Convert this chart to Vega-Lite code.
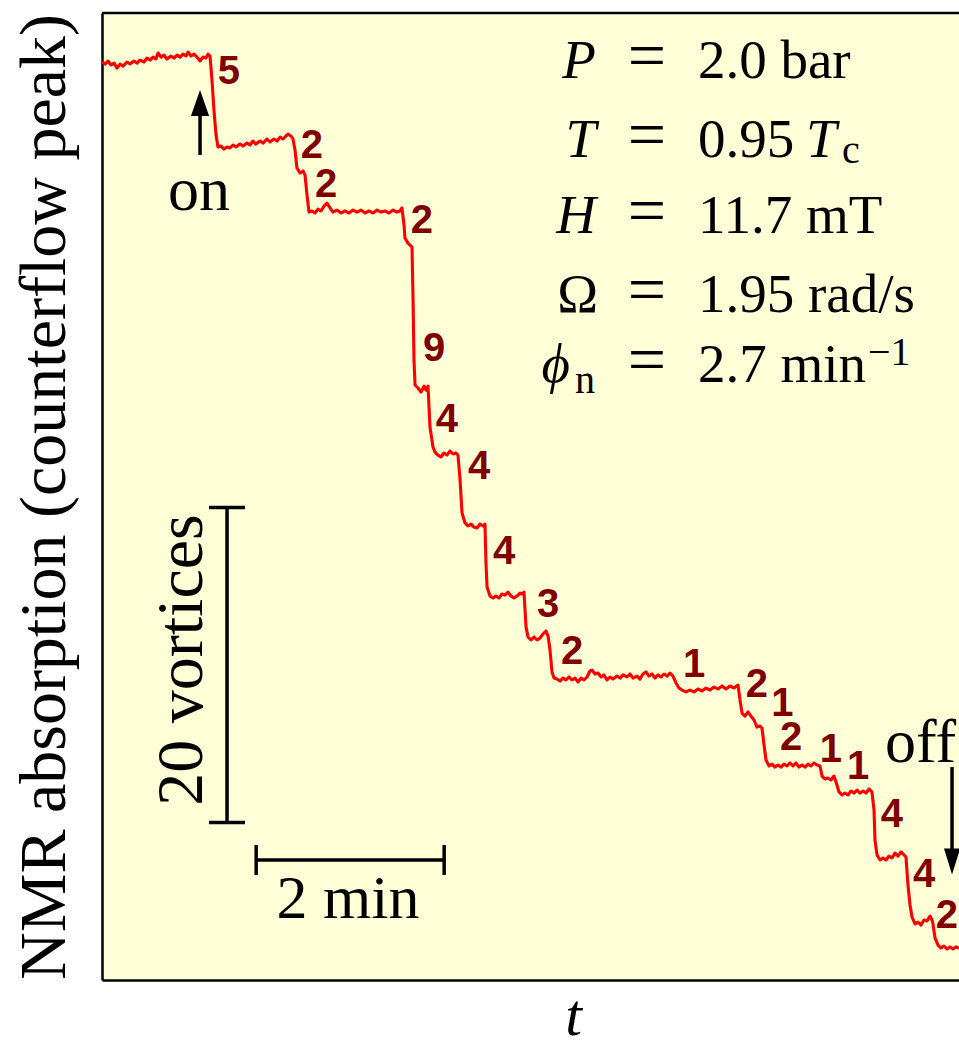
{
  "$schema": "https://vega.github.io/schema/vega-lite/v6.json",
  "width": 857,
  "height": 967,
  "autosize": {"type": "none"},
  "padding": {"left": 102, "top": 13, "right": 0, "bottom": 68},
  "background": "white",
  "config": {
    "view": {"stroke": null, "fill": "#FFFFD7"},
    "axis": {"grid": false, "labels": false, "ticks": false, "domainColor": "black", "domainWidth": 2.5, "titleColor": "black", "titleFont": "Liberation Serif, Times New Roman, DejaVu Serif, serif", "titleFontWeight": "normal"}
  },
  "encoding": {
    "x": {"field": "t", "type": "quantitative", "scale": {"domain": [0, 9.117], "nice": false, "zero": false},
          "axis": {"title": "t", "titleFontStyle": "italic", "titleFontSize": 60, "titlePadding": 7, "titleX": 471}},
    "y": {"field": "v", "type": "quantitative", "scale": {"domain": [0, 61.4], "nice": false, "zero": false},
          "axis": {"title": "NMR absorption (counterflow peak)", "titleFontSize": 66, "titlePadding": 24}}
  },
  "layer": [
    {
      "data": {"values": [
        {"t":0,"v":58.29},{"t":0.032,"v":58.16},{"t":0.064,"v":58.35},{"t":0.096,"v":58.10},{"t":0.128,"v":58.22},{"t":0.160,"v":57.90},{"t":0.191,"v":58.16},{"t":0.223,"v":58.03},{"t":0.266,"v":58.29},{"t":0.298,"v":58.16},{"t":0.340,"v":58.35},{"t":0.372,"v":58.22},{"t":0.404,"v":58.41},{"t":0.447,"v":58.29},{"t":0.479,"v":58.54},{"t":0.511,"v":58.41},{"t":0.543,"v":58.60},{"t":0.574,"v":58.48},{"t":0.596,"v":58.86},{"t":0.628,"v":58.60},{"t":0.660,"v":58.73},{"t":0.691,"v":58.48},{"t":0.734,"v":58.67},{"t":0.766,"v":58.54},{"t":0.798,"v":58.73},{"t":0.830,"v":58.60},{"t":0.862,"v":58.79},{"t":0.894,"v":58.67},{"t":0.915,"v":58.92},{"t":0.947,"v":58.67},{"t":0.979,"v":58.79},{"t":1.011,"v":58.60},{"t":1.043,"v":58.35},{"t":1.074,"v":58.60},{"t":1.106,"v":58.54},{"t":1.128,"v":58.79},
        {"t":1.149,"v":58.67},{"t":1.170,"v":57.14},{"t":1.191,"v":55.24},{"t":1.213,"v":53.65},{"t":1.234,"v":52.89},
        {"t":1.266,"v":52.95},{"t":1.298,"v":52.76},{"t":1.330,"v":52.89},{"t":1.362,"v":52.83},{"t":1.394,"v":53.02},{"t":1.426,"v":52.89},{"t":1.468,"v":53.08},{"t":1.500,"v":52.95},{"t":1.543,"v":53.14},{"t":1.574,"v":53.02},{"t":1.606,"v":53.27},{"t":1.638,"v":53.08},{"t":1.681,"v":53.27},{"t":1.713,"v":53.14},{"t":1.755,"v":53.40},{"t":1.787,"v":53.21},{"t":1.830,"v":53.40},{"t":1.862,"v":53.27},{"t":1.894,"v":53.52},{"t":1.926,"v":53.40},{"t":1.957,"v":53.59},{"t":1.979,"v":53.71},{"t":2.011,"v":53.59},{"t":2.032,"v":53.40},
        {"t":2.053,"v":52.70},{"t":2.074,"v":51.56},{"t":2.106,"v":51.24},{"t":2.138,"v":51.37},{"t":2.160,"v":51.11},{"t":2.181,"v":49.84},{"t":2.202,"v":48.76},
        {"t":2.234,"v":48.83},{"t":2.266,"v":48.70},{"t":2.298,"v":48.95},{"t":2.330,"v":48.83},{"t":2.362,"v":49.14},{"t":2.394,"v":49.33},{"t":2.426,"v":49.02},{"t":2.457,"v":48.76},{"t":2.500,"v":48.89},{"t":2.543,"v":48.70},{"t":2.585,"v":48.83},{"t":2.628,"v":48.70},{"t":2.670,"v":48.89},{"t":2.713,"v":48.76},{"t":2.755,"v":48.89},{"t":2.798,"v":48.70},{"t":2.840,"v":48.83},{"t":2.883,"v":48.70},{"t":2.926,"v":48.89},{"t":2.968,"v":48.76},{"t":3.011,"v":48.83},{"t":3.053,"v":48.70},{"t":3.096,"v":48.89},{"t":3.138,"v":48.76},{"t":3.170,"v":48.83},{"t":3.191,"v":49.02},
        {"t":3.213,"v":47.94},{"t":3.223,"v":47.11},{"t":3.255,"v":46.79},{"t":3.298,"v":46.54},{"t":3.309,"v":43.17},{"t":3.319,"v":39.37},{"t":3.330,"v":37.78},
        {"t":3.362,"v":37.59},{"t":3.394,"v":37.33},{"t":3.426,"v":37.71},{"t":3.447,"v":37.46},{"t":3.468,"v":37.71},
        {"t":3.489,"v":35.11},{"t":3.521,"v":33.84},{"t":3.543,"v":33.52},
        {"t":3.574,"v":33.33},{"t":3.606,"v":33.21},{"t":3.638,"v":33.46},{"t":3.670,"v":33.33},{"t":3.702,"v":33.59},{"t":3.734,"v":33.40},{"t":3.766,"v":33.46},{"t":3.787,"v":33.33},
        {"t":3.809,"v":31.75},{"t":3.830,"v":29.65},{"t":3.862,"v":29.02},
        {"t":3.894,"v":28.83},{"t":3.926,"v":28.95},{"t":3.957,"v":28.76},{"t":3.989,"v":28.70},{"t":4.021,"v":28.95},{"t":4.053,"v":28.83},{"t":4.074,"v":28.95},
        {"t":4.085,"v":26.48},{"t":4.096,"v":24.95},{"t":4.128,"v":24.38},{"t":4.160,"v":24.25},
        {"t":4.191,"v":24.38},{"t":4.223,"v":24.25},{"t":4.255,"v":24.51},{"t":4.287,"v":24.44},{"t":4.319,"v":24.63},{"t":4.351,"v":24.38},{"t":4.383,"v":24.25},{"t":4.415,"v":24.38},{"t":4.447,"v":24.57},{"t":4.468,"v":24.51},{"t":4.489,"v":24.63},
        {"t":4.511,"v":22.41},{"t":4.532,"v":21.78},{"t":4.564,"v":21.59},
        {"t":4.596,"v":21.78},{"t":4.628,"v":21.59},{"t":4.660,"v":21.71},{"t":4.691,"v":21.97},{"t":4.723,"v":22.16},{"t":4.745,"v":21.84},
        {"t":4.766,"v":20.95},{"t":4.787,"v":19.56},{"t":4.809,"v":19.17},
        {"t":4.840,"v":19.11},{"t":4.872,"v":18.98},{"t":4.904,"v":19.17},{"t":4.936,"v":19.05},{"t":4.968,"v":19.24},{"t":5.000,"v":19.05},{"t":5.032,"v":19.17},{"t":5.064,"v":18.92},{"t":5.096,"v":19.17},{"t":5.128,"v":19.05},{"t":5.160,"v":19.24},{"t":5.191,"v":19.62},{"t":5.213,"v":19.68},{"t":5.245,"v":19.43},{"t":5.277,"v":19.49},{"t":5.309,"v":19.24},{"t":5.340,"v":19.37},{"t":5.372,"v":19.05},{"t":5.404,"v":19.24},{"t":5.436,"v":19.11},{"t":5.479,"v":19.30},{"t":5.511,"v":19.17},{"t":5.543,"v":19.37},{"t":5.585,"v":19.24},{"t":5.617,"v":19.43},{"t":5.649,"v":19.17},{"t":5.691,"v":19.30},{"t":5.723,"v":19.11},{"t":5.755,"v":19.43},{"t":5.787,"v":19.56},{"t":5.819,"v":19.30},{"t":5.851,"v":19.43},{"t":5.883,"v":19.17},{"t":5.915,"v":19.37},{"t":5.947,"v":19.24},{"t":5.979,"v":19.43},{"t":6.011,"v":19.30},{"t":6.043,"v":19.49},{"t":6.074,"v":19.30},
        {"t":6.106,"v":18.86},{"t":6.138,"v":18.54},{"t":6.170,"v":18.41},
        {"t":6.213,"v":18.29},{"t":6.255,"v":18.41},{"t":6.298,"v":18.29},{"t":6.340,"v":18.48},{"t":6.383,"v":18.35},{"t":6.426,"v":18.54},{"t":6.468,"v":18.41},{"t":6.511,"v":18.60},{"t":6.553,"v":18.48},{"t":6.596,"v":18.67},{"t":6.638,"v":18.48},{"t":6.681,"v":18.67},{"t":6.723,"v":18.54},{"t":6.766,"v":18.73},
        {"t":6.787,"v":17.78},{"t":6.809,"v":16.95},{"t":6.840,"v":16.76},{"t":6.872,"v":17.02},{"t":6.904,"v":16.76},{"t":6.936,"v":16.51},{"t":6.968,"v":16.06},{"t":7.000,"v":16.13},{"t":7.021,"v":16.00},{"t":7.043,"v":14.92},{"t":7.064,"v":13.97},{"t":7.096,"v":13.59},
        {"t":7.128,"v":13.71},{"t":7.160,"v":13.52},{"t":7.191,"v":13.65},{"t":7.223,"v":13.52},{"t":7.255,"v":13.71},{"t":7.287,"v":13.59},{"t":7.319,"v":13.78},{"t":7.351,"v":13.59},{"t":7.383,"v":13.78},{"t":7.415,"v":13.52},{"t":7.447,"v":13.65},{"t":7.479,"v":13.52},{"t":7.511,"v":13.71},{"t":7.543,"v":13.59},{"t":7.574,"v":13.78},{"t":7.606,"v":13.65},{"t":7.638,"v":13.59},
        {"t":7.660,"v":12.95},{"t":7.691,"v":12.76},{"t":7.723,"v":12.83},{"t":7.755,"v":12.70},{"t":7.787,"v":12.95},{"t":7.809,"v":12.57},{"t":7.840,"v":11.94},{"t":7.872,"v":11.75},
        {"t":7.904,"v":11.87},{"t":7.936,"v":11.75},{"t":7.968,"v":12.00},{"t":8.000,"v":11.87},{"t":8.032,"v":12.06},{"t":8.064,"v":11.87},{"t":8.096,"v":12.00},{"t":8.128,"v":11.87},{"t":8.160,"v":12.13},{"t":8.191,"v":11.94},
        {"t":8.213,"v":10.79},{"t":8.223,"v":8.89},{"t":8.245,"v":7.94},{"t":8.277,"v":7.62},
        {"t":8.309,"v":7.75},{"t":8.340,"v":7.62},{"t":8.372,"v":7.87},{"t":8.404,"v":7.75},{"t":8.436,"v":8.06},{"t":8.468,"v":7.87},{"t":8.500,"v":8.13},{"t":8.532,"v":7.94},{"t":8.553,"v":7.81},
        {"t":8.574,"v":6.03},{"t":8.596,"v":4.76},{"t":8.617,"v":4.00},{"t":8.649,"v":3.56},
        {"t":8.681,"v":3.68},{"t":8.713,"v":3.49},{"t":8.745,"v":3.81},{"t":8.777,"v":3.75},{"t":8.809,"v":4.06},{"t":8.830,"v":3.81},{"t":8.840,"v":3.56},
        {"t":8.862,"v":2.67},{"t":8.894,"v":2.22},{"t":8.926,"v":2.03},
        {"t":8.957,"v":2.16},{"t":8.989,"v":1.97},{"t":9.021,"v":2.10},{"t":9.053,"v":1.97},{"t":9.085,"v":2.10},{"t":9.117,"v":2.03}
      ]},
      "mark": {"type": "line", "color": "#FF0000", "strokeWidth": 3.1, "strokeJoin": "round", "clip": true}
    },
    {
      "data": {"values": [{"t": 0, "t2": 9.117, "v": 61.4, "v2": 61.4}]},
      "mark": {"type": "rule", "color": "black", "strokeWidth": 2.5},
      "encoding": {"x2": {"field": "t2"}, "y2": {"field": "v2"}}
    },
    {
      "data": {"values": [
        {"t": 1.330, "t2": 1.330, "v": 10, "v2": 30},
        {"t": 1.138, "t2": 1.521, "v": 30, "v2": 30},
        {"t": 1.138, "t2": 1.521, "v": 10, "v2": 10},
        {"t": 1.64, "t2": 3.64, "v": 7.62, "v2": 7.62},
        {"t": 1.64, "t2": 1.64, "v": 6.67, "v2": 8.57},
        {"t": 3.64, "t2": 3.64, "v": 6.67, "v2": 8.57},
        {"t": 1.043, "t2": 1.043, "v": 52.38, "v2": 55.3},
        {"t": 9.043, "t2": 9.043, "v": 13.52, "v2": 7.9}
      ]},
      "mark": {"type": "rule", "color": "black", "strokeWidth": 3.5},
      "encoding": {"x2": {"field": "t2"}, "y2": {"field": "v2"}}
    },
    {
      "data": {"values": [
        {"t": 1.043, "v": 55.68, "dir": "up"},
        {"t": 9.043, "v": 7.52, "dir": "down"}
      ]},
      "mark": {"type": "point", "filled": true, "color": "black", "opacity": 1, "size": 676, "strokeWidth": 0},
      "encoding": {"shape": {"field": "dir", "type": "nominal", "scale": {"domain": ["up", "down"], "range": ["M0,-1L0.7,1L-0.7,1Z", "M0,1L0.62,-1L-0.62,-1Z"]}, "legend": null}}
    },
    {
      "data": {"values": [
        {"t": 1.351, "v": 57.65, "label": "5"},
        {"t": 2.234, "v": 52.95, "label": "2"},
        {"t": 2.383, "v": 50.48, "label": "2"},
        {"t": 3.404, "v": 48.19, "label": "2"},
        {"t": 3.532, "v": 40.06, "label": "9"},
        {"t": 3.670, "v": 35.56, "label": "4"},
        {"t": 4.011, "v": 32.57, "label": "4"},
        {"t": 4.277, "v": 27.17, "label": "4"},
        {"t": 4.745, "v": 23.81, "label": "3"},
        {"t": 5.000, "v": 20.83, "label": "2"},
        {"t": 6.298, "v": 20.00, "label": "1"},
        {"t": 6.968, "v": 18.73, "label": "2"},
        {"t": 7.238, "v": 17.55, "label": "1"},
        {"t": 7.330, "v": 15.37, "label": "2"},
        {"t": 7.755, "v": 14.60, "label": "1"},
        {"t": 8.043, "v": 13.52, "label": "1"},
        {"t": 8.404, "v": 10.48, "label": "4"},
        {"t": 8.745, "v": 6.67, "label": "4"},
        {"t": 8.989, "v": 4.06, "label": "2"}
      ]},
      "mark": {"type": "text", "font": "Liberation Sans, Arial, Helvetica, sans-serif", "fontWeight": "bold", "fontSize": 40, "color": "#800000", "align": "center", "baseline": "middle"},
      "encoding": {"text": {"field": "label"}}
    },
    {
      "data": {"values": [
        {"t": 1.032, "v": 48.89, "label": "on"},
        {"t": 2.617, "v": 3.94, "label": "2 min"}
      ]},
      "mark": {"type": "text", "font": "Liberation Serif, Times New Roman, DejaVu Serif, serif", "fontSize": 62, "color": "black", "align": "center", "baseline": "alphabetic"},
      "encoding": {"text": {"field": "label"}}
    },
    {
      "data": {"values": [{"t": 8.330, "v": 13.84, "label": "off"}]},
      "mark": {"type": "text", "font": "Liberation Serif, Times New Roman, DejaVu Serif, serif", "fontSize": 62, "color": "black", "align": "left", "baseline": "alphabetic"},
      "encoding": {"text": {"field": "label"}}
    },
    {
      "data": {"values": [{"t": 1.064, "v": 20.32, "label": "20 vortices"}]},
      "mark": {"type": "text", "font": "Liberation Serif, Times New Roman, DejaVu Serif, serif", "fontSize": 66, "color": "black", "align": "center", "baseline": "alphabetic", "angle": 270},
      "encoding": {"text": {"field": "label"}}
    },
    {
      "data": {"values": [
        {"t": 5.255, "v": 57.27, "label": "P"},
        {"t": 5.255, "v": 52.25, "label": "T"},
        {"t": 5.255, "v": 47.43, "label": "H"},
        {"t": 4.979, "v": 37.97, "label": "ϕ"}
      ]},
      "mark": {"type": "text", "font": "Liberation Serif, Times New Roman, DejaVu Serif, serif", "fontStyle": "italic", "fontSize": 55, "color": "black", "align": "right", "baseline": "alphabetic"},
      "encoding": {"text": {"field": "label"}}
    },
    {
      "data": {"values": [{"t": 5.277, "v": 42.41, "label": "Ω"}]},
      "mark": {"type": "text", "font": "Liberation Serif, Times New Roman, DejaVu Serif, serif", "fontSize": 55, "color": "black", "align": "right", "baseline": "alphabetic"},
      "encoding": {"text": {"field": "label"}}
    },
    {
      "data": {"values": [
        {"t": 5.798, "v": 57.27, "label": "="},
        {"t": 5.798, "v": 52.25, "label": "="},
        {"t": 5.798, "v": 47.43, "label": "="},
        {"t": 5.798, "v": 42.41, "label": "="},
        {"t": 5.798, "v": 37.97, "label": "="}
      ]},
      "mark": {"type": "text", "font": "Liberation Serif, Times New Roman, DejaVu Serif, serif", "fontSize": 68, "color": "black", "align": "center", "baseline": "alphabetic"},
      "encoding": {"text": {"field": "label"}}
    },
    {
      "data": {"values": [
        {"t": 6.340, "v": 57.27, "label": "2.0 bar"},
        {"t": 6.340, "v": 52.25, "label": "0.95"},
        {"t": 6.340, "v": 47.43, "label": "11.7 mT"},
        {"t": 6.340, "v": 42.41, "label": "1.95 rad/s"},
        {"t": 6.340, "v": 37.97, "label": "2.7 min"}
      ]},
      "mark": {"type": "text", "font": "Liberation Serif, Times New Roman, DejaVu Serif, serif", "fontSize": 55, "color": "black", "align": "left", "baseline": "alphabetic"},
      "encoding": {"text": {"field": "label"}}
    },
    {
      "data": {"values": [{"t": 7.489, "v": 52.25, "label": "T"}]},
      "mark": {"type": "text", "font": "Liberation Serif, Times New Roman, DejaVu Serif, serif", "fontStyle": "italic", "fontSize": 55, "color": "black", "align": "left", "baseline": "alphabetic"},
      "encoding": {"text": {"field": "label"}}
    },
    {
      "data": {"values": [
        {"t": 7.872, "v": 51.87, "label": "c"},
        {"t": 8.149, "v": 39.05, "label": "−1"}
      ]},
      "mark": {"type": "text", "font": "Liberation Serif, Times New Roman, DejaVu Serif, serif", "fontSize": 40, "color": "black", "align": "left", "baseline": "alphabetic"},
      "encoding": {"text": {"field": "label"}}
    },
    {
      "data": {"values": [{"t": 5.245, "v": 37.27, "label": "n"}]},
      "mark": {"type": "text", "font": "Liberation Serif, Times New Roman, DejaVu Serif, serif", "fontSize": 40, "color": "black", "align": "right", "baseline": "alphabetic"},
      "encoding": {"text": {"field": "label"}}
    }
  ]
}
